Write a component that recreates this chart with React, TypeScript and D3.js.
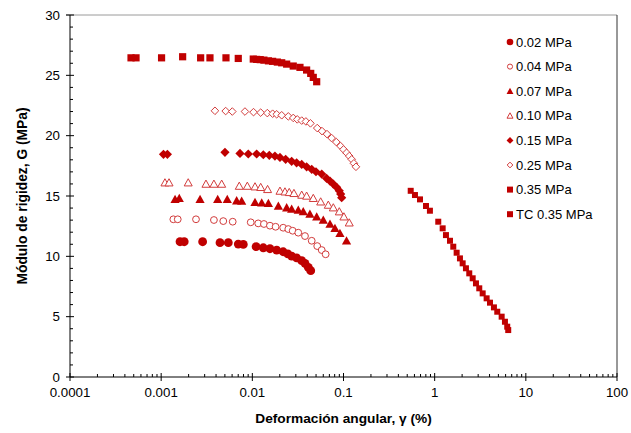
import React from "react";
import * as d3 from "d3";

// strain (%) and shear modulus G (MPa)
const g002X = [0.00161, 0.00179, 0.00285, 0.00442, 0.00545, 0.00701, 0.00796, 0.011, 0.0132, 0.0156, 0.0185, 0.0218, 0.0245, 0.027, 0.0306, 0.0348, 0.0378, 0.0411, 0.0437];
const g002Y = [11.21, 11.21, 11.21, 11.13, 11.13, 11.02, 10.99, 10.8, 10.71, 10.63, 10.52, 10.38, 10.2, 10.02, 9.88, 9.64, 9.42, 9.09, 8.81];

const g004X = [0.00136, 0.00152, 0.00241, 0.00379, 0.0048, 0.00609, 0.0096, 0.0116, 0.0134, 0.0156, 0.018, 0.0218, 0.0248, 0.0277, 0.0319, 0.0378, 0.0448, 0.0515, 0.0577, 0.0637];
const g004Y = [13.07, 13.07, 13.07, 13.01, 12.92, 12.87, 12.82, 12.73, 12.68, 12.54, 12.45, 12.37, 12.26, 12.12, 11.96, 11.68, 11.29, 10.85, 10.52, 10.17];

const g007X = [0.00142, 0.00158, 0.00267, 0.00417, 0.00531, 0.00673, 0.00764, 0.0107, 0.01267, 0.015, 0.0193, 0.0238, 0.027, 0.0319, 0.0362, 0.0428, 0.0508, 0.06, 0.0711, 0.0806, 0.0914, 0.108];
const g007Y = [14.72, 14.81, 14.72, 14.72, 14.72, 14.61, 14.58, 14.47, 14.44, 14.39, 14.17, 14.03, 13.92, 13.84, 13.7, 13.5, 13.28, 13.01, 12.68, 12.32, 11.91, 11.29];

const g010X = [0.0011, 0.00122, 0.00198, 0.0031, 0.00379, 0.00461, 0.00719, 0.00881, 0.0107, 0.01235, 0.0147, 0.0201, 0.0228, 0.0254, 0.0286, 0.0348, 0.0394, 0.0466, 0.0562, 0.0681, 0.0773, 0.0899, 0.101, 0.1156];
const g010Y = [16.1, 16.1, 16.1, 15.99, 15.99, 15.99, 15.82, 15.82, 15.77, 15.72, 15.55, 15.41, 15.35, 15.3, 15.22, 15.08, 15.0, 14.81, 14.52, 14.25, 14.03, 13.7, 13.28, 12.78];

const g015X = [0.00106, 0.00117, 0.00501, 0.00732, 0.00903, 0.01116, 0.0132, 0.01535, 0.0177, 0.0201, 0.0232, 0.027, 0.0306, 0.0348, 0.0394, 0.0448, 0.0499, 0.0577, 0.0653, 0.0711, 0.0773, 0.0842, 0.0899, 0.0931, 0.0955];
const g015Y = [18.45, 18.45, 18.62, 18.53, 18.48, 18.48, 18.42, 18.37, 18.31, 18.2, 18.04, 17.87, 17.75, 17.62, 17.42, 17.21, 17.01, 16.82, 16.46, 16.24, 15.99, 15.72, 15.43, 15.16, 14.86];

const g025X = [0.00389, 0.0051, 0.00603, 0.0083, 0.0103, 0.01235, 0.0146, 0.0167, 0.0185, 0.021, 0.0248, 0.0281, 0.0311, 0.0348, 0.0387, 0.0434, 0.0515, 0.0581, 0.0659, 0.0741, 0.0834, 0.0927, 0.1, 0.108, 0.1156, 0.123, 0.13, 0.137];
const g025Y = [22.06, 22.04, 22.0, 22.0, 21.95, 21.91, 21.87, 21.82, 21.77, 21.69, 21.6, 21.47, 21.35, 21.25, 21.18, 21.02, 20.63, 20.38, 20.13, 19.8, 19.47, 19.14, 18.86, 18.58, 18.31, 18.04, 17.71, 17.42];

const g035X = [0.000467, 0.00053, 0.00101, 0.00172, 0.00271, 0.00343, 0.00514, 0.00701, 0.01024, 0.01116, 0.0122, 0.0134, 0.015, 0.0167, 0.0188, 0.021, 0.0238, 0.0281, 0.0333, 0.0394, 0.0437, 0.0466, 0.0508];
const g035Y = [26.45, 26.45, 26.45, 26.54, 26.45, 26.45, 26.45, 26.4, 26.35, 26.32, 26.3, 26.26, 26.2, 26.16, 26.1, 26.04, 25.93, 25.77, 25.66, 25.44, 25.16, 24.83, 24.47];

const tcX = [0.546, 0.608, 0.69, 0.803, 0.887, 1.095, 1.224, 1.33, 1.472, 1.6, 1.742, 1.894, 2.028, 2.203, 2.396, 2.612, 2.838, 3.085, 3.362, 3.715, 4.043, 4.467, 4.86, 5.43, 5.9, 6.25, 6.41];
const tcY = [15.43, 15.08, 14.72, 14.17, 13.78, 12.87, 12.32, 11.76, 11.29, 10.8, 10.3, 9.83, 9.42, 9.01, 8.59, 8.18, 7.76, 7.35, 6.93, 6.52, 6.16, 5.77, 5.41, 5.0, 4.58, 4.17, 3.89];

const seriesNames = ["0.02 MPa", "0.04 MPa", "0.07 MPa", "0.10 MPa", "0.15 MPa", "0.25 MPa", "0.35 MPa", "TC 0.35 MPa"];
const xTicks = [0.0001, 0.001, 0.01, 0.1, 1, 10, 100];
const yTicks = [0, 5, 10, 15, 20, 25, 30];

const RED = "#C00000";
const OPEN = "#D23C3C";
const FONT = "'Liberation Sans', Arial, sans-serif";

type Shape = "circle" | "triangle" | "diamond" | "square";
const markers: { shape: Shape; filled: boolean; size: number }[] = [
  { shape: "circle", filled: true, size: 4.4 },
  { shape: "circle", filled: false, size: 3.4 },
  { shape: "triangle", filled: true, size: 4.6 },
  { shape: "triangle", filled: false, size: 4.0 },
  { shape: "diamond", filled: true, size: 4.6 },
  { shape: "diamond", filled: false, size: 3.8 },
  { shape: "square", filled: true, size: 3.6 },
  { shape: "square", filled: true, size: 3.0 },
];

function markerPath(shape: Shape, s: number) {
  if (shape === "circle") return `M${s},0A${s},${s} 0 1,1 ${-s},0A${s},${s} 0 1,1 ${s},0Z`;
  if (shape === "triangle") return `M0,${-s}L${s},${s * 0.8}L${-s},${s * 0.8}Z`;
  if (shape === "diamond") return `M0,${-s}L${s},0L0,${s}L${-s},0Z`;
  return `M${-s},${-s}h${2 * s}v${2 * s}h${-2 * s}Z`;
}

export default function App() {
  const width = 631;
  const height = 433;
  const left = 70, right = 617, top = 15, bottom = 377;

  const x = d3.scaleLog().domain([0.0001, 100]).range([left, right]);
  const y = d3.scaleLinear().domain([0, 30]).range([bottom, top]);

  const series = [
    [g002X, g002Y], [g004X, g004Y], [g007X, g007Y], [g010X, g010Y],
    [g015X, g015Y], [g025X, g025Y], [g035X, g035Y], [tcX, tcY],
  ];

  const minorX: number[] = [];
  for (let e = -4; e < 2; e++) for (let k = 2; k <= 9; k++) minorX.push(k * Math.pow(10, e));
  const minorY = d3.range(0, 31, 1).filter((v) => v % 5 !== 0);

  return (
    <div style={{ position: "fixed", left: 0, top: 0 }}>
      <svg width={width} height={height} style={{ display: "block", background: "#fff" }}>
        {/* frame */}
        <line x1={left - 4} x2={right} y1={top} y2={top} stroke="#9a9a9a" strokeWidth={1} />
        <line x1={right} x2={right} y1={top} y2={bottom} stroke="#333" strokeWidth={1} />

        {/* y axis */}
        <line x1={left} x2={left} y1={top} y2={bottom} stroke="#000" strokeWidth={1} />
        {yTicks.map((t) => (
          <g key={"yt" + t}>
            <line x1={left - 4} x2={left + 4} y1={y(t)} y2={y(t)} stroke="#000" />
            <text x={left - 10} y={y(t) + 4.5} textAnchor="end" fontFamily={FONT} fontSize={13.3} fill="#000">
              {t}
            </text>
          </g>
        ))}
        {minorY.map((t) => (
          <line key={"ym" + t} x1={left} x2={left + 3} y1={y(t)} y2={y(t)} stroke="#000" />
        ))}

        {/* x axis */}
        <line x1={left} x2={right} y1={bottom} y2={bottom} stroke="#000" strokeWidth={1} />
        {xTicks.map((t) => (
          <g key={"xt" + t}>
            <line x1={x(t)} x2={x(t)} y1={bottom - 4} y2={bottom + 4} stroke="#000" />
            <text x={x(t)} y={bottom + 20} textAnchor="middle" fontFamily={FONT} fontSize={13.3} fill="#000">
              {String(t)}
            </text>
          </g>
        ))}
        {minorX.map((t, i) => (
          <line key={"xm" + i} x1={x(t)} x2={x(t)} y1={bottom - 3} y2={bottom} stroke="#000" />
        ))}

        {/* axis titles */}
        <text x={(left + right) / 2} y={423} textAnchor="middle" fontFamily={FONT} fontSize={13.7} fontWeight="bold" fill="#000">
          Deformación angular, γ  (%)
        </text>
        <text
          transform={`translate(27,${(top + bottom) / 2}) rotate(-90)`}
          textAnchor="middle"
          fontFamily={FONT}
          fontSize={13.8}
          fontWeight="bold"
          fill="#000"
        >
          Módulo de rigidez, G (MPa)
        </text>

        {/* data */}
        {series.map(([xs, ys], si) => {
          const m = markers[si];
          const d = markerPath(m.shape, m.size);
          return (
            <g key={"s" + si}>
              {xs.map((v, i) => (
                <path
                  key={i}
                  d={d}
                  transform={`translate(${x(v)},${y(ys[i])})`}
                  fill={m.filled ? RED : "#fff"}
                  stroke={m.filled ? "none" : OPEN}
                  strokeWidth={1}
                />
              ))}
            </g>
          );
        })}

        {/* legend */}
        {seriesNames.map((name, i) => {
          const m = markers[i];
          const cy = 42 + i * 24.6;
          const s = m.shape === "square" ? 3 : m.size * 0.75;
          return (
            <g key={"lg" + i}>
              <path
                d={markerPath(m.shape, s)}
                transform={`translate(510,${cy})`}
                fill={m.filled ? RED : "#fff"}
                stroke={m.filled ? "none" : OPEN}
                strokeWidth={1}
              />
              <text x={516} y={cy + 4.5} fontFamily={FONT} fontSize={13} fill="#000">
                {name}
              </text>
            </g>
          );
        })}
      </svg>
    </div>
  );
}
